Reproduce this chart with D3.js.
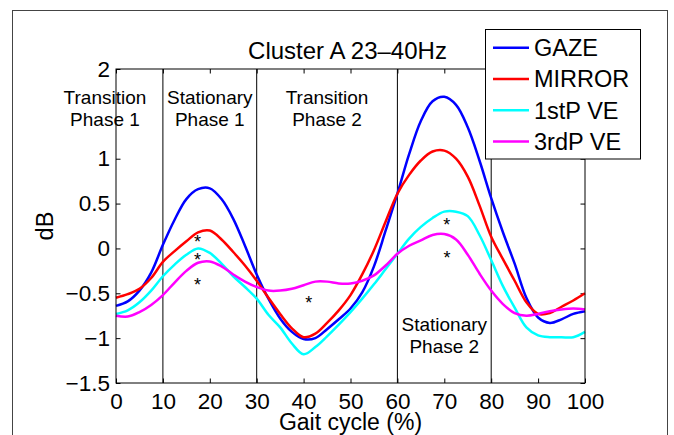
<!DOCTYPE html>
<html>
<head>
<meta charset="utf-8">
<script src="https://cdn.jsdelivr.net/npm/d3@7"></script>
<style>
  body { margin: 0; background: #fff; }
  text { font-family: "Liberation Sans", Arial, Helvetica, sans-serif; fill: #000; }
</style>
</head>
<body>
<div id="chart"></div>
<script>
// gait cycle positions (%) that every series is sampled at
const gait = [0, 2.5, 5, 7.5, 10, 12.5, 15, 17.5, 20, 22.5, 25, 27.5, 30, 32.5, 35, 37.5, 40,
  42.5, 45, 47.5, 50, 52.5, 55, 57.5, 60, 62.5, 65, 67.5, 70, 72.5, 75, 77.5, 80,
  82.5, 85, 87.5, 90, 92.5, 95, 97.5, 100];

// dB values, one array per condition
const gaze = [-0.64, -0.59, -0.47, -0.27, 0.04, 0.32, 0.55, 0.66, 0.67, 0.55, 0.33, 0.03, -0.29,
  -0.56, -0.78, -0.93, -1.01, -1.0, -0.9, -0.79, -0.67, -0.49, -0.2, 0.2, 0.61, 1.05, 1.42,
  1.64, 1.69, 1.6, 1.35, 0.98, 0.56, 0.18, -0.17, -0.55, -0.77, -0.83, -0.79, -0.73, -0.70];
const mirror = [-0.55, -0.51, -0.45, -0.33, -0.15, -0.03, 0.08, 0.18, 0.2, 0.1, -0.04, -0.19, -0.36,
  -0.55, -0.73, -0.89, -0.99, -0.95, -0.83, -0.69, -0.52, -0.29, -0.02, 0.3, 0.61, 0.82, 0.98,
  1.08, 1.09, 1.0, 0.8, 0.48, 0.13, -0.12, -0.36, -0.6, -0.73, -0.72, -0.65, -0.58, -0.50];
const firstPVE = [-0.73, -0.69, -0.6, -0.47, -0.31, -0.18, -0.07, 0.0, -0.05, -0.17, -0.31, -0.43, -0.56,
  -0.74, -0.88, -1.06, -1.18, -1.1, -0.98, -0.85, -0.71, -0.56, -0.4, -0.23, -0.06, 0.11, 0.24,
  0.34, 0.41, 0.41, 0.36, 0.15, -0.13, -0.42, -0.66, -0.88, -0.97, -0.99, -0.99, -0.99, -0.93];
const thirdPVE = [-0.75, -0.76, -0.71, -0.63, -0.52, -0.38, -0.25, -0.16, -0.145, -0.2, -0.29, -0.37, -0.43,
  -0.47, -0.47, -0.45, -0.41, -0.37, -0.37, -0.39, -0.39, -0.36, -0.3, -0.19, -0.06, 0.03, 0.09,
  0.15, 0.16, 0.1, -0.07, -0.28, -0.47, -0.62, -0.72, -0.75, -0.73, -0.7, -0.68, -0.67, -0.68];

const seriesNames = ["GAZE", "MIRROR", "1stP VE", "3rdP VE"];
const seriesValues = [gaze, mirror, firstPVE, thirdPVE];
const seriesColors = ["#0000ff", "#ff0000", "#00ffff", "#ff00ff"];

// axis ticks (the 1.5 label is hidden behind the first phase label in the original)
const xTicks = [0, 10, 20, 30, 40, 50, 60, 70, 80, 90, 100];
const yTicks = [-1.5, -1, -0.5, 0, 0.5, 1, 1.5, 2];
const yHidden = [1.5];

// phase boundaries and labels
const phaseBounds = [10, 30, 60, 80];
const phaseLabels = [
  {x: -2.35, y: 1.61, lines: ["Transition", "Phase 1"], bg: true},
  {x: 20, y: 1.61, lines: ["Stationary", "Phase 1"]},
  {x: 45, y: 1.61, lines: ["Transition", "Phase 2"]},
  {x: 70, y: -0.92, lines: ["Stationary", "Phase 2"]}
];

// significance markers
const stars = [
  {x: 17.4, y: 0.12}, {x: 17.4, y: -0.087}, {x: 17.4, y: -0.36},
  {x: 41.1, y: -0.57}, {x: 70.5, y: 0.30}, {x: 70.6, y: -0.065}
];

const W = 674, H = 435;
const plot = {left: 116, right: 585, top: 69, bottom: 383};

const svg = d3.select("#chart").append("svg")
  .attr("width", W)
  .attr("height", H);

// outer figure frame
svg.append("rect")
  .attr("x", 12.5).attr("y", 10.5)
  .attr("width", 655).attr("height", 440)
  .attr("fill", "#fff")
  .attr("stroke", "#444")
  .attr("stroke-width", 1);

const x = d3.scaleLinear().domain([0, 100]).range([plot.left, plot.right]);
const y = d3.scaleLinear().domain([-1.5, 2]).range([plot.bottom, plot.top]);
const tickLen = 4.5;

const fmt = d => (d < 0 ? "\u2212" : "") + Math.abs(d);

// axes: labels outside, ticks pointing in, mirrored on the opposite sides
svg.append("g")
  .attr("transform", `translate(0,${plot.bottom})`)
  .call(d3.axisBottom(x).tickValues(xTicks).tickSize(-tickLen).tickPadding(10).tickFormat(fmt))
  .call(g => g.select(".domain").remove())
  .call(g => g.selectAll("text").attr("font-size", 22.5).attr("font-family", null).attr("dy", "0.71em"));
svg.append("g")
  .attr("transform", `translate(0,${plot.top})`)
  .call(d3.axisTop(x).tickValues(xTicks).tickSize(-tickLen).tickFormat(""))
  .call(g => g.select(".domain").remove());
svg.append("g")
  .attr("transform", `translate(${plot.left},0)`)
  .call(d3.axisLeft(y).tickValues(yTicks).tickSize(-tickLen)
    .tickFormat(d => yHidden.includes(d) ? "" : fmt(d)))
  .call(g => g.select(".domain").remove())
  .call(g => g.selectAll("text").attr("font-size", 22.5).attr("font-family", null).attr("x", -6));
svg.append("g")
  .attr("transform", `translate(${plot.right},0)`)
  .call(d3.axisRight(y).tickValues(yTicks).tickSize(-tickLen).tickFormat(""))
  .call(g => g.select(".domain").remove());

// phase boundary lines
svg.selectAll("line.phase")
  .data(phaseBounds)
  .enter()
  .append("line")
  .attr("class", "phase")
  .attr("x1", d => x(d)).attr("x2", d => x(d))
  .attr("y1", plot.top).attr("y2", plot.bottom)
  .attr("stroke", "#000")
  .attr("stroke-width", 1);

// curves
const line = d3.line()
  .x((d, i) => x(gait[i]))
  .y(d => y(d))
  .curve(d3.curveCatmullRom.alpha(0.5));

svg.selectAll("path.series")
  .data(seriesValues)
  .enter()
  .append("path")
  .attr("class", "series")
  .attr("d", d => line(d))
  .attr("fill", "none")
  .attr("stroke", (d, i) => seriesColors[i])
  .attr("stroke-width", 2.5);

// asterisks
svg.selectAll("text.star")
  .data(stars)
  .enter()
  .append("text")
  .attr("class", "star")
  .attr("x", d => x(d.x))
  .attr("y", d => y(d.y))
  .attr("dy", "0.55em")
  .attr("text-anchor", "middle")
  .attr("font-size", 18)
  .text("*");

// phase labels, the first one sits on a white box over the axis
phaseLabels.forEach(p => {
  const g = svg.append("g");
  const t = g.append("text")
    .attr("text-anchor", "middle")
    .attr("font-size", 19);
  p.lines.forEach((s, i) => {
    t.append("tspan")
      .attr("x", x(p.x))
      .attr("y", y(p.y) + i * 22.5)
      .text(s);
  });
  if (p.bg) {
    const b = t.node().getBBox();
    g.insert("rect", "text")
      .attr("x", b.x - 2).attr("y", b.y - 1)
      .attr("width", b.width + 4).attr("height", b.height + 2)
      .attr("fill", "#fff");
  }
});

// plot box on top
svg.append("rect")
  .attr("x", plot.left).attr("y", plot.top)
  .attr("width", plot.right - plot.left)
  .attr("height", plot.bottom - plot.top)
  .attr("fill", "none")
  .attr("stroke", "#000")
  .attr("stroke-width", 1);

// title and axis labels
svg.append("text")
  .attr("x", (plot.left + plot.right) / 2 - 3)
  .attr("y", 59)
  .attr("text-anchor", "middle")
  .attr("font-size", 24)
  .text("Cluster A 23\u201340Hz");

svg.append("text")
  .attr("x", (plot.left + plot.right) / 2)
  .attr("y", 430)
  .attr("text-anchor", "middle")
  .attr("font-size", 23)
  .text("Gait cycle (%)");

svg.append("text")
  .attr("transform", `translate(53,${(plot.top + plot.bottom) / 2}) rotate(-90)`)
  .attr("text-anchor", "middle")
  .attr("font-size", 23.5)
  .text("dB");

// legend
const legend = svg.append("g");
legend.append("rect")
  .attr("x", 485.5).attr("y", 29.5)
  .attr("width", 155).attr("height", 129.5)
  .attr("fill", "#fff")
  .attr("stroke", "#000")
  .attr("stroke-width", 1);

const rowY = i => 47.7 + i * 31.3;
legend.selectAll("line")
  .data(seriesNames)
  .enter()
  .append("line")
  .attr("x1", 493).attr("x2", 529)
  .attr("y1", (d, i) => rowY(i)).attr("y2", (d, i) => rowY(i))
  .attr("stroke", (d, i) => seriesColors[i])
  .attr("stroke-width", 2.5);

legend.selectAll("text")
  .data(seriesNames)
  .enter()
  .append("text")
  .attr("x", 534)
  .attr("y", (d, i) => rowY(i))
  .attr("dy", "0.36em")
  .attr("font-size", 23.5)
  .text(d => d);
</script>
</body>
</html>
